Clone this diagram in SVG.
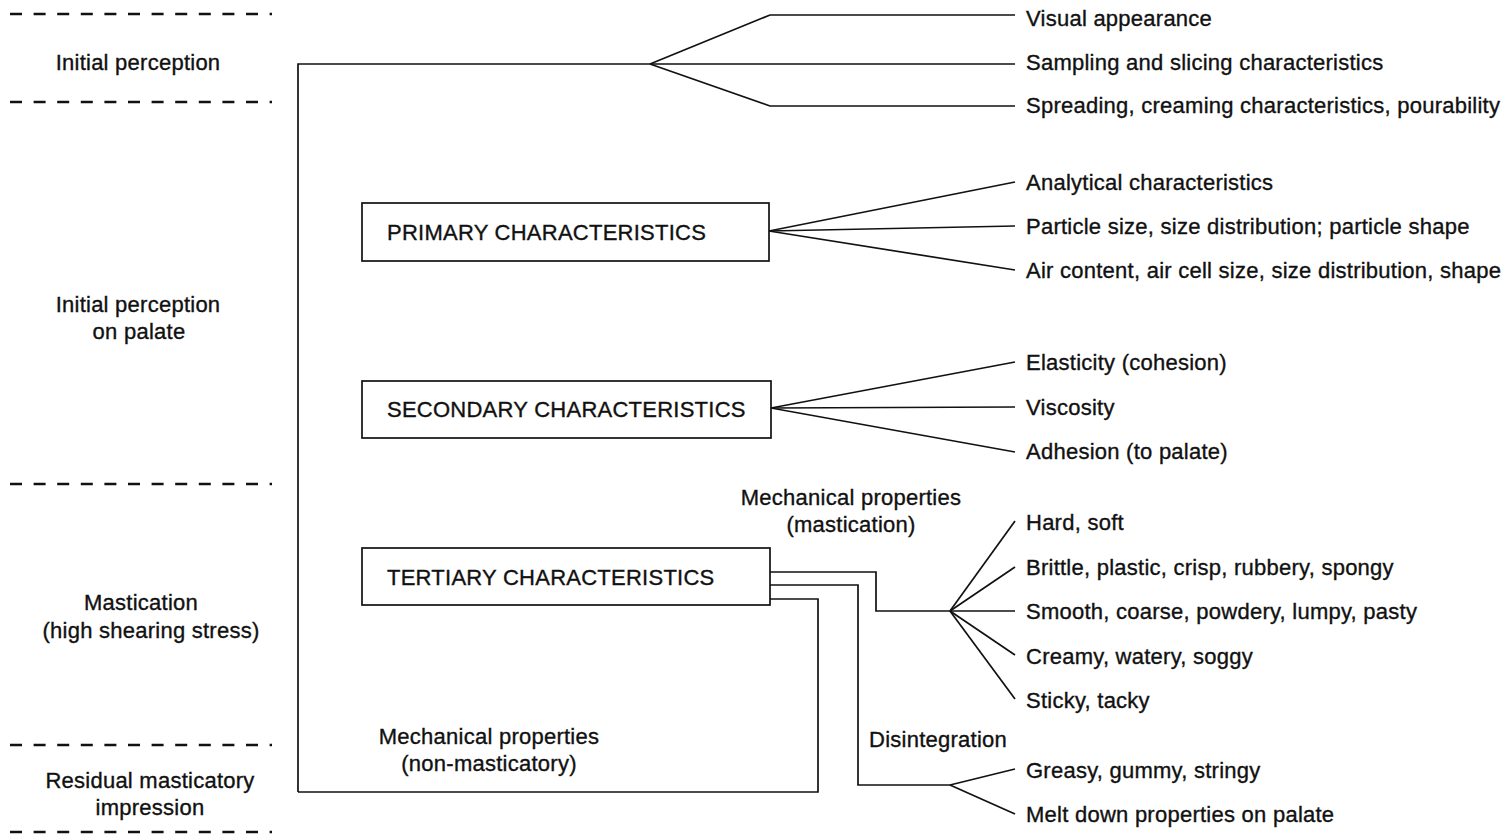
<svg xmlns="http://www.w3.org/2000/svg" width="1505" height="839" viewBox="0 0 1505 839">
<style>
text{font-family:"Liberation Sans",Arial,Helvetica,sans-serif;font-size:22px;letter-spacing:0.25px;fill:#111;stroke:#111;stroke-width:0.35}
.m{text-anchor:middle}
.ln{fill:none;stroke:#111;stroke-width:1.7;stroke-linejoin:miter}
.box{fill:#fff;stroke:#111;stroke-width:1.7}
.dash{stroke:#111;stroke-width:2.4;stroke-dasharray:12 11.6}
</style>
<rect width="1505" height="839" fill="#fff"/>
<g id="stages">
<line class="dash" x1="10" y1="14" x2="272" y2="14"/>
<line class="dash" x1="10" y1="102" x2="272" y2="102"/>
<line class="dash" x1="10" y1="484" x2="272" y2="484"/>
<line class="dash" x1="10" y1="745" x2="272" y2="745"/>
<line class="dash" x1="10" y1="832" x2="272" y2="832"/>
<text class="m" x="138" y="70">Initial perception</text>
<text class="m" x="138" y="312">Initial perception</text>
<text class="m" x="139" y="339">on palate</text>
<text class="m" x="141" y="610">Mastication</text>
<text class="m" x="151" y="638">(high shearing stress)</text>
<text class="m" x="150" y="788">Residual masticatory</text>
<text class="m" x="150" y="815">impression</text>
</g>
<g id="connectors">
<polyline class="ln" points="298,792 298,64 650,64 1015,64"/>
<polyline class="ln" points="650,64 770,15 1015,15"/>
<polyline class="ln" points="650,64 770,106 1015,106"/>
<line class="ln" x1="769" y1="231" x2="1015" y2="182"/>
<line class="ln" x1="769" y1="231" x2="1015" y2="226"/>
<line class="ln" x1="769" y1="231" x2="1015" y2="270"/>
<line class="ln" x1="771" y1="408" x2="1015" y2="362"/>
<line class="ln" x1="771" y1="408" x2="1015" y2="407"/>
<line class="ln" x1="771" y1="408" x2="1015" y2="452"/>
<polyline class="ln" points="770,572 876,572 876,611 950,611"/>
<polyline class="ln" points="770,585 858,585 858,785 950,785"/>
<polyline class="ln" points="770,599 818,599 818,792 298,792"/>
<line class="ln" x1="950" y1="611" x2="1015" y2="521"/>
<line class="ln" x1="950" y1="611" x2="1015" y2="567"/>
<line class="ln" x1="950" y1="611" x2="1015" y2="611"/>
<line class="ln" x1="950" y1="611" x2="1015" y2="655"/>
<line class="ln" x1="950" y1="611" x2="1015" y2="699"/>
<line class="ln" x1="950" y1="785" x2="1015" y2="769"/>
<line class="ln" x1="950" y1="785" x2="1015" y2="814"/>
<text class="m" x="851" y="505">Mechanical properties</text>
<text class="m" x="851" y="532">(mastication)</text>
<text class="m" x="489" y="744">Mechanical properties</text>
<text class="m" x="489" y="771">(non-masticatory)</text>
<text x="869" y="747">Disintegration</text>
</g>
<g id="primary">
<rect class="box" x="362" y="203" width="407" height="58"/>
<text x="387" y="240">PRIMARY CHARACTERISTICS</text>
</g>
<g id="secondary">
<rect class="box" x="362" y="381" width="409" height="57"/>
<text x="387" y="417">SECONDARY CHARACTERISTICS</text>
</g>
<g id="tertiary">
<rect class="box" x="362" y="548" width="408" height="57"/>
<text x="387" y="585">TERTIARY CHARACTERISTICS</text>
</g>
<g id="leaves">
<text x="1026" y="26">Visual appearance</text>
<text x="1026" y="70">Sampling and slicing characteristics</text>
<text x="1026" y="113">Spreading, creaming characteristics, pourability</text>
<text x="1026" y="190">Analytical characteristics</text>
<text x="1026" y="234">Particle size, size distribution; particle shape</text>
<text x="1026" y="278">Air content, air cell size, size distribution, shape</text>
<text x="1026" y="370">Elasticity (cohesion)</text>
<text x="1026" y="415">Viscosity</text>
<text x="1026" y="459">Adhesion (to palate)</text>
<text x="1026" y="530">Hard, soft</text>
<text x="1026" y="575">Brittle, plastic, crisp, rubbery, spongy</text>
<text x="1026" y="619">Smooth, coarse, powdery, lumpy, pasty</text>
<text x="1026" y="664">Creamy, watery, soggy</text>
<text x="1026" y="708">Sticky, tacky</text>
<text x="1026" y="778">Greasy, gummy, stringy</text>
<text x="1026" y="822">Melt down properties on palate</text>
</g>
</svg>
